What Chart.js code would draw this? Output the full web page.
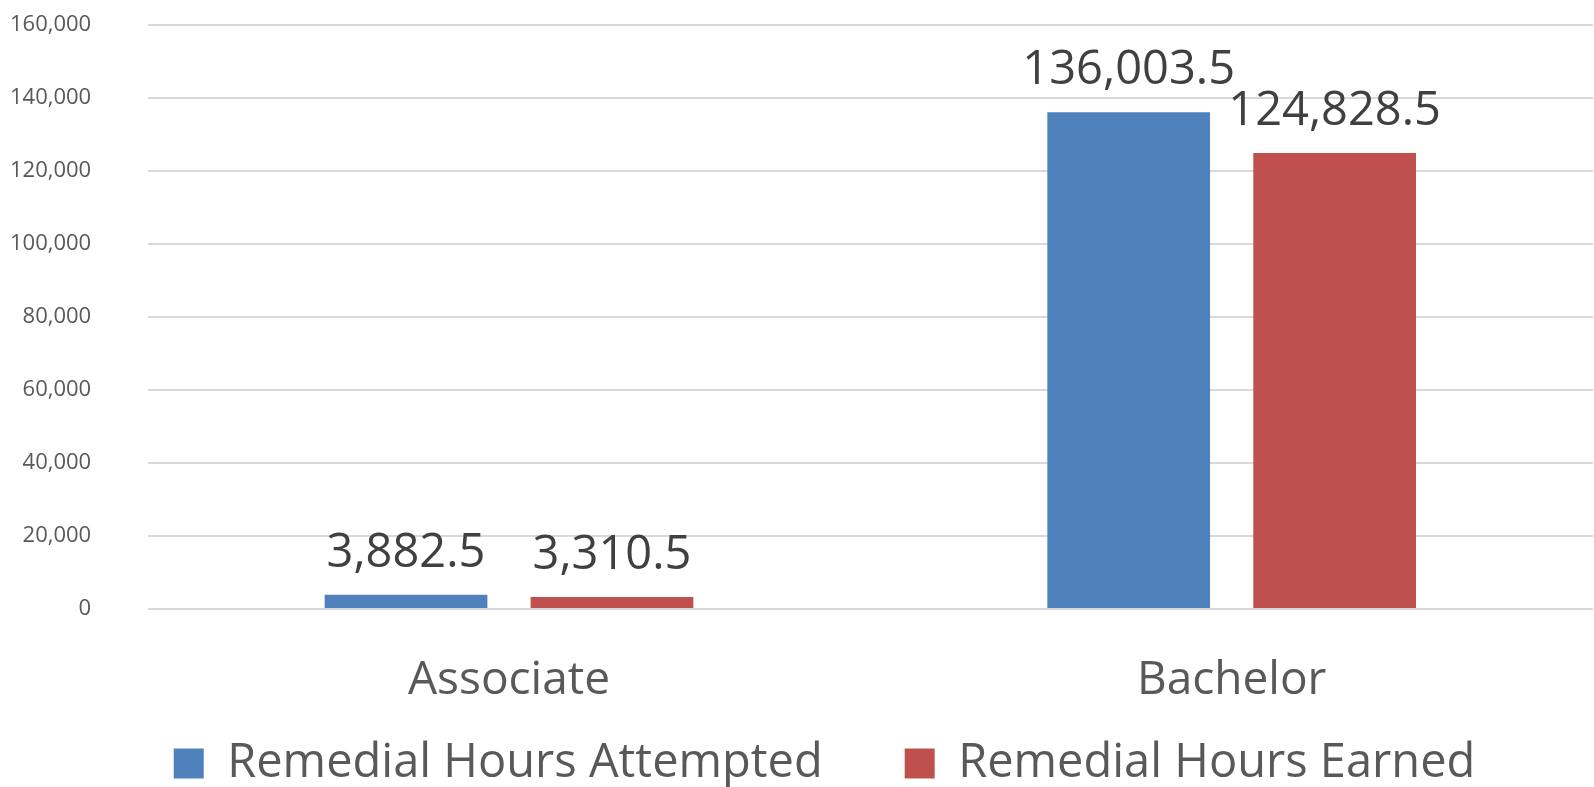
<!DOCTYPE html>
<html>
<head>
<meta charset="utf-8">
<script src="https://cdn.jsdelivr.net/npm/chart.js@4"></script>
<style>
  html, body { margin: 0; padding: 0; background: #fff; }
  #wrap { width: 1594px; height: 787px; }
</style>
</head>
<body>
<div id="wrap"><canvas id="c"></canvas></div>
<script>
const categories = ["Associate", "Bachelor"];
const seriesNames = ["Remedial Hours Attempted", "Remedial Hours Earned"];
const attempted = [3882.5, 136003.5];
const earned = [3310.5, 124828.5];
const yTicks = [0, 20000, 40000, 60000, 80000, 100000, 120000, 140000, 160000];

const FONT = "'Open Sans', 'Noto Sans', sans-serif";

const valueLabels = {
  id: 'valueLabels',
  afterDatasetsDraw(chart) {
    const ctx = chart.ctx;
    ctx.save();
    ctx.font = "47px " + FONT;
    ctx.fillStyle = '#404040';
    ctx.textAlign = 'center';
    ctx.textBaseline = 'alphabetic';
    chart.data.datasets.forEach((ds, i) => {
      const meta = chart.getDatasetMeta(i);
      meta.data.forEach((el, j) => {
        const v = ds.data[j];
        const txt = v.toLocaleString('en-US', {minimumFractionDigits: 1, maximumFractionDigits: 1});
        ctx.fillText(txt, el.x, el.y - 28);
      });
    });
    ctx.restore();
  }
};

// Place the legend block where the reference has it (legend is clipped to its box).
const legendPlace = {
  id: 'legendPlace',
  afterLayout(chart) {
    const lg = chart.legend;
    const pad = lg.options.labels.padding;
    const dx = 23;
    lg.top = 740 - pad;
    lg.bottom = chart.height;
    lg.height = lg.bottom - lg.top;
    lg.left += dx;
    lg.right += dx;
  }
};

function build() {
  new Chart(document.getElementById('c'), {
    type: 'bar',
    data: {
      labels: categories,
      datasets: [
        { label: seriesNames[0], data: attempted, backgroundColor: '#4F81BD',
          categoryPercentage: 0.57, barPercentage: 0.79 },
        { label: seriesNames[1], data: earned, backgroundColor: '#C0504D',
          categoryPercentage: 0.57, barPercentage: 0.79 }
      ]
    },
    options: {
      responsive: true,
      maintainAspectRatio: false,
      animation: false,
      layout: { padding: { top: 24.5, right: 1, left: 10, bottom: 11.8 } },
      plugins: {
        tooltip: { enabled: false },
        legend: {
          position: 'bottom',
          maxHeight: 67,
          labels: {
            font: { family: FONT, size: 47 },
            color: '#595959',
            boxWidth: 30,
            boxHeight: 30,
            padding: 82
          }
        }
      },
      scales: {
        x: {
          grid: { display: true, drawOnChartArea: false, drawTicks: true,
                  tickLength: 44, color: 'rgba(0,0,0,0)', tickColor: 'rgba(0,0,0,0)' },
          border: { display: false },
          ticks: {
            font: { family: FONT, size: 46 },
            color: '#595959',
            padding: 0
          }
        },
        y: {
          min: 0,
          max: 160000,
          afterBuildTicks(axis) { axis.ticks = yTicks.map(v => ({ value: v })); },
          grid: { color: '#D9D9D9', lineWidth: 2, drawTicks: true, tickLength: 56.5,
                  tickColor: 'rgba(0,0,0,0)' },
          border: { display: false },
          ticks: {
            font: { family: FONT, size: 22 },
            color: '#595959',
            padding: 0,
            callback: v => v.toLocaleString('en-US')
          }
        }
      }
    },
    plugins: [valueLabels, legendPlace]
  });
}

Promise.all([
  document.fonts.load("22px 'Open Sans'"),
  document.fonts.load("47px 'Open Sans'")
]).then(build, build);
</script>
</body>
</html>
